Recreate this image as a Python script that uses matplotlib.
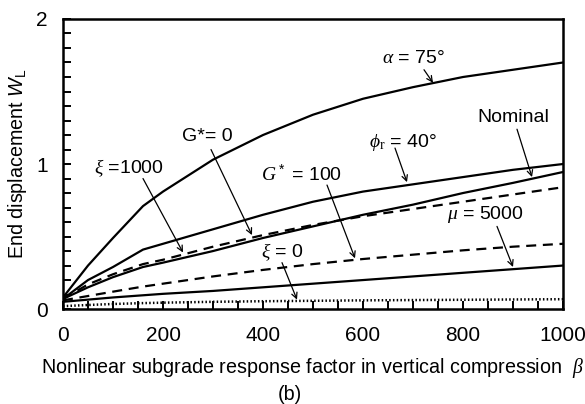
import matplotlib.pyplot as plt
from matplotlib.ticker import MultipleLocator

plt.rcParams['font.family'] = 'Liberation Sans'
plt.rcParams['mathtext.fontset'] = 'custom'
plt.rcParams['mathtext.rm'] = 'Liberation Sans'
plt.rcParams['mathtext.it'] = 'Liberation Serif:italic'
plt.rcParams['mathtext.sf'] = 'Liberation Sans:italic'
plt.rcParams['mathtext.bf'] = 'Liberation Serif'

# beta values shared by all curves
beta = [0, 50, 100, 160, 200, 300, 400, 500, 600, 700, 800, 900, 1000]

# end displacement
w_alpha75 = [0.08, 0.30, 0.49, 0.71, 0.81, 1.03, 1.20, 1.34, 1.45, 1.53, 1.60, 1.65, 1.70]
w_phi40 = [0.07, 0.20, 0.29, 0.41, 0.45, 0.55, 0.65, 0.74, 0.81, 0.86, 0.91, 0.96, 1.00]
w_nominal = [0.07, 0.15, 0.22, 0.29, 0.32, 0.40, 0.49, 0.57, 0.65, 0.72, 0.80, 0.87, 0.945]
w_g0 = [0.07, 0.17, 0.24, 0.31, 0.34, 0.43, 0.51, 0.58, 0.64, 0.69, 0.74, 0.79, 0.84]
w_g100 = [0.06, 0.09, 0.12, 0.155, 0.175, 0.225, 0.27, 0.31, 0.345, 0.375, 0.405, 0.43, 0.45]
w_mu5000 = [0.05, 0.065, 0.08, 0.095, 0.105, 0.125, 0.15, 0.175, 0.20, 0.225, 0.25, 0.275, 0.30]
w_xi0 = [0.02, 0.028, 0.035, 0.041, 0.044, 0.05, 0.054, 0.057, 0.06, 0.062, 0.064, 0.066, 0.068]

# (label, text position, arrow tail, arrow tip)
notes = [
    (r'$\alpha$ = 75°', (700, 1.73), (722, 1.65), (740, 1.56)),
    ('G*= 0', (288, 1.19), (296, 1.10), (378, 0.51)),
    (r'$\xi$ =1000', (132, 0.97), (160, 0.90), (240, 0.39)),
    ('$G^*$ = 100', (478, 0.93), (528, 0.855), (584, 0.35)),
    (r'$\phi_{\mathbf{r}}$ = 40°', (680, 1.15), (664, 1.11), (688, 0.875)),
    ('Nominal', (900, 1.32), (908, 1.24), (938, 0.91)),
    (r'$\mu$ = 5000', (844, 0.65), (868, 0.57), (900, 0.29)),
    (r'$\xi$ = 0', (438, 0.39), (438, 0.32), (468, 0.065)),
]

fig = plt.figure(figsize=(5.85, 4.04), dpi=100)
ax = fig.add_axes([0.1077, 0.235, 0.8547, 0.718])

lw = 1.6
ax.plot(beta, w_alpha75, color='black', lw=lw)
ax.plot(beta, w_phi40, color='black', lw=lw)
ax.plot(beta, w_nominal, color='black', lw=lw)
ax.plot(beta, w_g0, color='black', lw=lw, ls=(0, (4.5, 3)))
ax.plot(beta, w_g100, color='black', lw=lw, ls=(0, (4.5, 3)))
ax.plot(beta, w_mu5000, color='black', lw=lw)
ax.plot(beta, w_xi0, color='black', lw=1.8, ls=(0, (0.6, 0.9)))

for txt, pos, tail, tip in notes:
    ax.text(pos[0], pos[1], txt, fontsize=14, ha='center', va='center')
    ax.annotate('', xy=tip, xytext=tail,
                arrowprops=dict(arrowstyle='->', color='black', lw=0.9,
                                shrinkA=0, shrinkB=0))

ax.set_xlim(0, 1000)
ax.set_ylim(0, 2)
ax.xaxis.set_major_locator(MultipleLocator(200))
ax.xaxis.set_minor_locator(MultipleLocator(50))
ax.yaxis.set_major_locator(MultipleLocator(1))
ax.yaxis.set_minor_locator(MultipleLocator(0.1))
ax.tick_params(which='both', direction='in', length=6, width=1.4,
               labelsize=15, top=False, right=False)
ax.tick_params(axis='x', pad=12)
ax.tick_params(axis='y', pad=11)
for s in ax.spines.values():
    s.set_linewidth(1.8)

ax.set_xlabel(r'Nonlinear subgrade response factor in vertical compression  $\beta$',
              fontsize=14.2, labelpad=8)
ax.set_ylabel(r'End displacement $\mathsf{W}_\mathrm{L}$', fontsize=14.2, labelpad=5)
fig.text(0.496, 0.0, '(b)', fontsize=14.2, ha='center', va='bottom')

fig.savefig('out.png', dpi=100)
